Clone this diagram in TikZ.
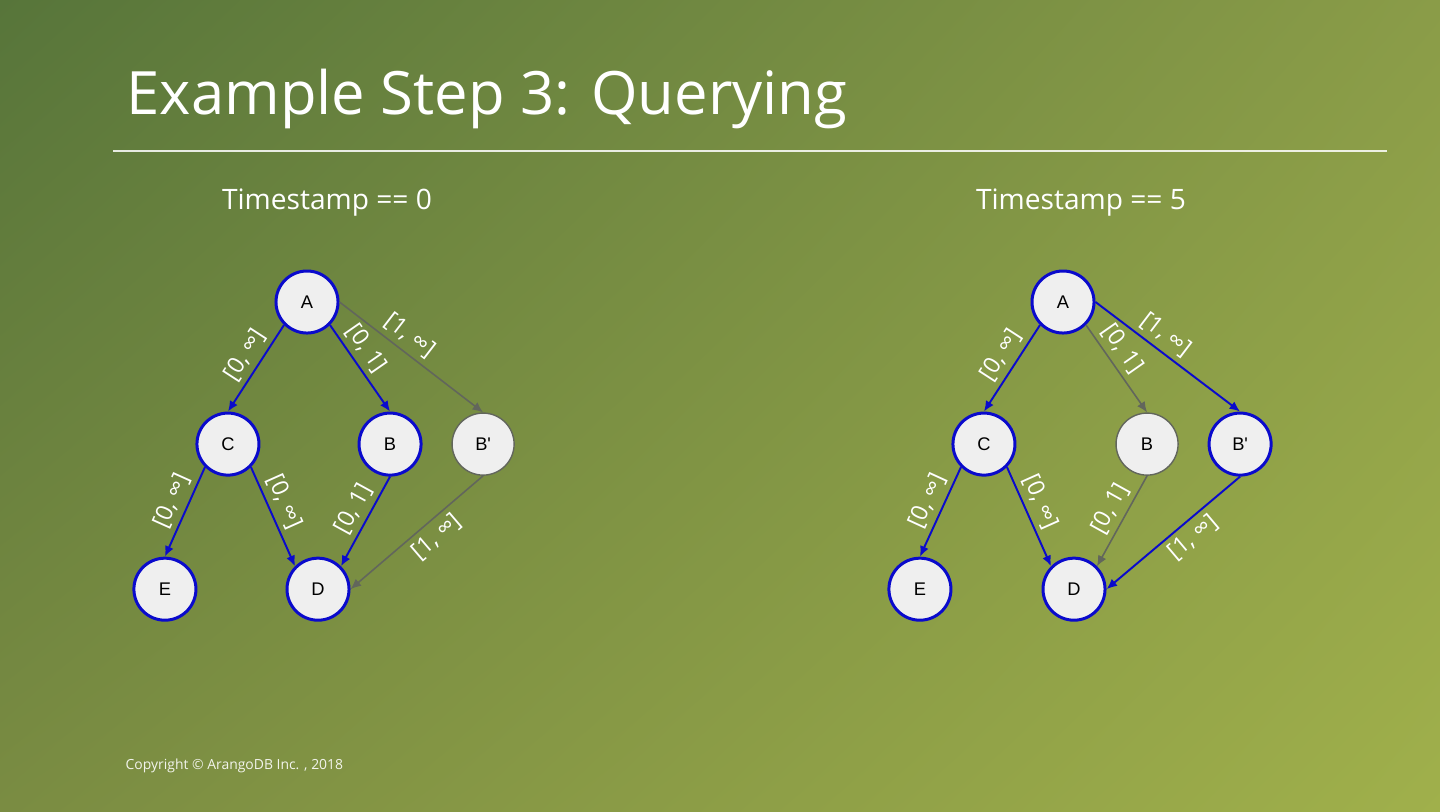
\documentclass[tikz,border=0pt]{standalone}
\usepackage{fontspec}
\setmainfont{Open Sans}
\newfontfamily\arialfont{Liberation Sans}
\usetikzlibrary{arrows.meta, positioning, shadings}

\definecolor{bgtl}{HTML}{57753A}
\definecolor{bgtr}{HTML}{8A9C48}
\definecolor{bgbl}{HTML}{7A8C42}
\definecolor{bgbr}{HTML}{A0B04B}
\definecolor{edgeblue}{HTML}{0A0ACC}
\definecolor{edgegray}{HTML}{62665C}
\definecolor{nodefill}{HTML}{EFEFEF}

\begin{document}
\begin{tikzpicture}[x=0.01cm, y=-0.01cm,
    live/.style={circle, draw=edgeblue, line width=0.85pt, fill=nodefill, minimum size=0.62cm, inner sep=0pt, font=\arialfont\fontsize{5.2}{6}\selectfont},
    gone/.style={live, draw=edgegray, line width=0.4pt},
    livearrow/.style={-{Latex[length=3pt,width=2.6pt]}, draw=edgeblue, line width=0.55pt},
    gonearrow/.style={livearrow, draw=edgegray, line width=0.45pt},
    lbl/.style={sloped, pos=0.45, text=white, inner sep=1.5pt, font=\fontsize{6.6}{7}\selectfont},
    heading/.style={text=white, font=\fontsize{8}{10}\selectfont}
]
    % background
    \shade[upper left=bgtl, upper right=bgtr, lower left=bgbl, lower right=bgbr] (0,0) rectangle (1440,811);
    \useasboundingbox (0,0) rectangle (1440,811);

    \node[text=white, anchor=base west, inner sep=0pt, font=\fontsize{17}{20}\selectfont] (title) at (126,114) {Example Step 3: Querying};
    \draw[white, opacity=0.85, line width=0.45pt] (113,151) -- (1387,151);
    \node[text=white, opacity=0.9, anchor=base west, inner sep=0pt, font=\fontsize{3.96}{5}\selectfont] (copy) at (125,769) {Copyright © ArangoDB Inc. , 2018};

    % timestamp 0
    \node[heading, anchor=base] (ts0) at (327,209) {Timestamp == 0};
    \node[live] (a0) at (307,302) {A};
    \node[live, on grid, below left=1.42cm and 0.79cm of a0] (c0) {C};
    \node[live, on grid, right=1.62cm of c0] (b0) {B};
    \node[gone, on grid, right=0.93cm of b0] (bp0) {B'};
    \node[live, on grid, below left=1.45cm and 0.63cm of c0] (e0) {E};
    \node[live, on grid, below right=1.45cm and 0.90cm of c0] (d0) {D};

    \draw[livearrow] (a0.south west) -- node[lbl, above] {[0, ∞]} (c0.north);
    \draw[livearrow] (a0.south east) -- node[lbl, above, pos=0.38] {[0, 1]} (b0.north);
    \draw[gonearrow] (a0.east) -- node[lbl, above, pos=0.42] {[1, ∞]} (bp0.north);
    \draw[livearrow] (c0.south west) -- node[lbl, above] {[0, ∞]} (e0.north);
    \draw[livearrow] (c0.south east) -- node[lbl, above, pos=0.42] {[0, ∞]} (d0.north west);
    \draw[livearrow] (b0.south) -- node[lbl, above] {[0, 1]} (d0.north east);
    \draw[gonearrow] (bp0.south) -- node[lbl, below, pos=0.43] {[1, ∞]} (d0.east);

    % timestamp 5
    \node[heading, anchor=base] (ts5) at (1081,209) {Timestamp == 5};
    \node[live] (a5) at (1063,302) {A};
    \node[live, on grid, below left=1.42cm and 0.79cm of a5] (c5) {C};
    \node[gone, on grid, right=1.63cm of c5] (b5) {B};
    \node[live, on grid, right=0.93cm of b5] (bp5) {B'};
    \node[live, on grid, below left=1.45cm and 0.64cm of c5] (e5) {E};
    \node[live, on grid, below right=1.45cm and 0.90cm of c5] (d5) {D};

    \draw[livearrow] (a5.south west) -- node[lbl, above] {[0, ∞]} (c5.north);
    \draw[gonearrow] (a5.south east) -- node[lbl, above, pos=0.38] {[0, 1]} (b5.north);
    \draw[livearrow] (a5.east) -- node[lbl, above, pos=0.42] {[1, ∞]} (bp5.north);
    \draw[livearrow] (c5.south west) -- node[lbl, above] {[0, ∞]} (e5.north);
    \draw[livearrow] (c5.south east) -- node[lbl, above, pos=0.42] {[0, ∞]} (d5.north west);
    \draw[gonearrow] (b5.south) -- node[lbl, above] {[0, 1]} (d5.north east);
    \draw[livearrow] (bp5.south) -- node[lbl, below, pos=0.43] {[1, ∞]} (d5.east);
\end{tikzpicture}
\end{document}
